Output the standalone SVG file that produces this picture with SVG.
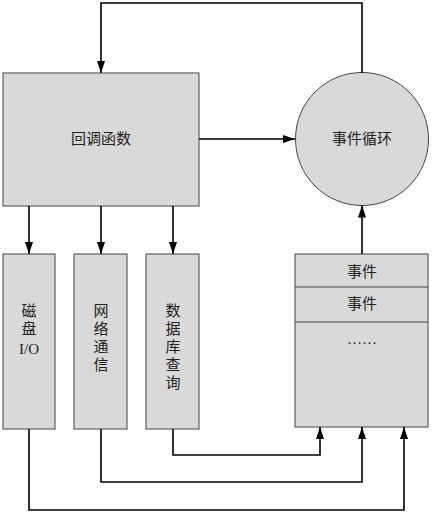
<svg xmlns="http://www.w3.org/2000/svg" width="432" height="513" viewBox="0 0 432 513">
<defs>
<marker id="arr" markerWidth="12" markerHeight="10" viewBox="0 0 12 10" refX="12" refY="5" orient="auto" markerUnits="userSpaceOnUse">
<path d="M0,1 L12,5 L0,9 Z" fill="#000"/>
</marker>
<style>
.n{fill:#d9d9d9;stroke:#444;stroke-width:1}
.c{fill:none;stroke:#000;stroke-width:1.6}
.t{font-family:"Liberation Serif","Noto Sans CJK SC",serif;font-size:15px;fill:#222;text-anchor:middle;dominant-baseline:central}
.d{fill:none;stroke:#444;stroke-width:1}
</style>
</defs>
<rect width="432" height="513" fill="#fff"/>
<g id="callback">
<rect class="n" x="3" y="73" width="196" height="133"/>
<text class="t" x="101" y="139">回调函数</text>
</g>
<g id="eventloop">
<circle class="n" cx="362" cy="139" r="66.5"/>
<text class="t" x="362" y="139">事件循环</text>
</g>
<g id="disk">
<rect class="n" x="3" y="254" width="52" height="175"/>
<text class="t" x="29" y="311">磁</text>
<text class="t" x="29" y="329">盘</text>
<text class="t" x="29" y="349">I/O</text>
</g>
<g id="network">
<rect class="n" x="74" y="254" width="53" height="175"/>
<text class="t" x="101" y="311">网</text>
<text class="t" x="101" y="329">络</text>
<text class="t" x="101" y="347">通</text>
<text class="t" x="101" y="365">信</text>
</g>
<g id="database">
<rect class="n" x="146" y="254" width="53" height="175"/>
<text class="t" x="173" y="311">数</text>
<text class="t" x="173" y="329">据</text>
<text class="t" x="173" y="347">库</text>
<text class="t" x="173" y="365">查</text>
<text class="t" x="173" y="383">询</text>
</g>
<g id="queue">
<rect class="n" x="295" y="254" width="133" height="173"/>
<line class="d" x1="295" y1="287" x2="428" y2="287"/>
<line class="d" x1="295" y1="322" x2="428" y2="322"/>
<text class="t" x="362" y="272">事件</text>
<text class="t" x="362" y="304">事件</text>
<text class="t" x="362" y="339">……</text>
</g>
<g id="connectors">
<path class="c" d="M362,73 V3 H101 V73" marker-end="url(#arr)"/>
<path class="c" d="M199,139 H295" marker-end="url(#arr)"/>
<path class="c" d="M29,206 V254" marker-end="url(#arr)"/>
<path class="c" d="M101,206 V254" marker-end="url(#arr)"/>
<path class="c" d="M173,206 V254" marker-end="url(#arr)"/>
<path class="c" d="M362,254 V205.5" marker-end="url(#arr)"/>
<path class="c" d="M173,429 V455 H320 V427" marker-end="url(#arr)"/>
<path class="c" d="M101,429 V482 H362 V427" marker-end="url(#arr)"/>
<path class="c" d="M29,429 V510 H404 V427" marker-end="url(#arr)"/>
</g>
</svg>
